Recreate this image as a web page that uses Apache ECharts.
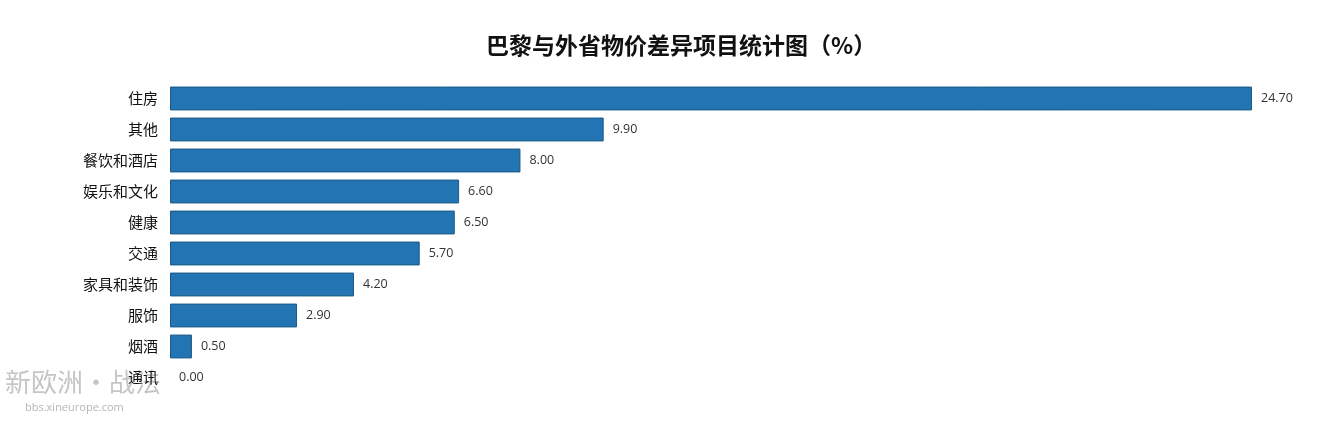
<!DOCTYPE html>
<html><head><meta charset="utf-8">
<script src="https://cdn.jsdelivr.net/npm/echarts@6/dist/echarts.min.js"></script>
<style>html,body{margin:0;padding:0;background:#fff}#c{width:1318px;height:421px}</style>
</head><body><div id="c"></div>
<script>
const titleText = '巴黎与外省物价差异项目统计图（%）';
const categories = ['住房','其他','餐饮和酒店','娱乐和文化','健康','交通','家具和装饰','服饰','烟酒','通讯'];
const values = [24.70, 9.90, 8.00, 6.60, 6.50, 5.70, 4.20, 2.90, 0.50, 0.00];

const chart = echarts.init(document.getElementById('c'));
chart.setOption({
  backgroundColor: '#fff',
  animation: false,
  title: {
    text: titleText, left: 481, top: 29,
    textStyle: {fontFamily: 'Noto Sans CJK SC', fontSize: 23, fontWeight: 'bold', color: '#111'}
  },
  grid: {left: 170, right: 66, top: 83, bottom: 28},
  xAxis: {type: 'value', min: 0, max: 24.7, show: false},
  yAxis: {
    type: 'category', data: categories, inverse: true,
    axisLine: {show: false}, axisTick: {show: false},
    axisLabel: {margin: 12, fontFamily: 'Noto Sans CJK SC', fontSize: 15, color: '#111'}
  },
  series: [{
    type: 'bar',
    data: values.map(v => v === 0 ? {value: v, itemStyle: {borderWidth: 0}} : v),
    barCategoryGap: '23%',
    itemStyle: {color: '#2274b2', borderColor: '#1a5987', borderWidth: 1},
    label: {show: true, position: 'right', distance: 9, formatter: p => p.value.toFixed(2),
      fontFamily: 'Open Sans', fontSize: 12.5, color: '#333'}
  }],
  graphic: [
    {type: 'text', left: 5, top: 369, style: {text: '新欧洲·战法', fontSize: 26, fontFamily: 'Noto Sans CJK SC', fill: 'rgba(150,150,150,0.55)'}},
    {type: 'text', left: 25, top: 402, style: {text: 'bbs.xineurope.com', fontSize: 11, fontFamily: 'Open Sans', fill: 'rgba(150,150,150,0.7)'}}
  ]
});
</script></body></html>
